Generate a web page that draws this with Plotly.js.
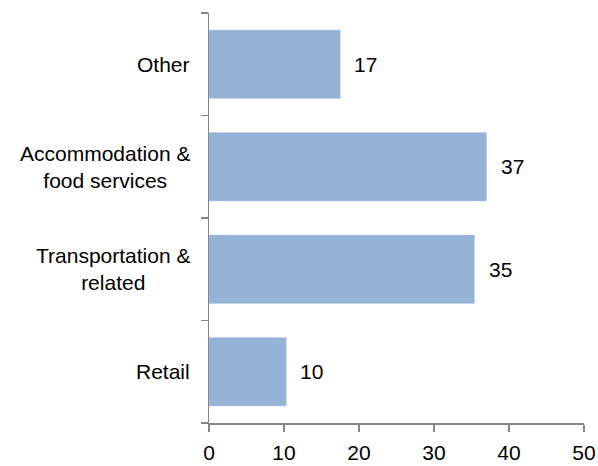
<!DOCTYPE html>
<html>
<head>
<meta charset="utf-8">
<script src="https://cdn.plot.ly/plotly-3.0.1.min.js"></script>
<style>html,body{margin:0;padding:0;background:#fff;}#chart{width:598px;height:466px;}</style>
</head>
<body>
<div id="chart"></div>
<script>
const categories = ["Retail", "Transportation &<br>related", "Accommodation &<br>food services", "Other"];
const values = [10.3, 35.4, 37.0, 17.5];
const valueLabels = ["10", "35", "37", "17"];
const xTicks = [0, 10, 20, 30, 40, 50];

const FONT = "Liberation Sans, Arial, sans-serif";
const FS = 21;
const AXIS_COLOR = "#868686";

const trace = {
  type: "bar",
  orientation: "h",
  y: categories,
  x: values,
  marker: {color: "#95B3D7", line: {color: "#B9CDE5", width: 0.5}},
  hoverinfo: "none"
};

const annotations = [];
categories.forEach((c, i) => {
  annotations.push({
    x: values[i], y: c, xref: "x", yref: "y",
    text: valueLabels[i], showarrow: false,
    xanchor: "left", xshift: 12,
    font: {family: FONT, size: FS, color: "#000"}
  });
  annotations.push({
    x: 0, y: c, xref: "paper", yref: "y",
    text: c, showarrow: false, align: "center",
    xanchor: "right", xshift: -17,
    font: {family: FONT, size: FS, color: "#000"}
  });
});

const layout = {
  width: 598, height: 466,
  margin: {l: 209, r: 14, t: 13, b: 43, pad: 0},
  paper_bgcolor: "#fff", plot_bgcolor: "#fff",
  showlegend: false,
  bargap: 0.333,
  font: {family: FONT, size: FS, color: "#000"},
  xaxis: {
    range: [0, 50], tickvals: xTicks, ticktext: xTicks.map(String),
    showgrid: false, zeroline: false,
    showline: true, linecolor: AXIS_COLOR, linewidth: 1.5,
    ticks: "outside", ticklen: 7, tickcolor: AXIS_COLOR, tickwidth: 1.5,
    ticklabelstandoff: 3,
    tickfont: {family: FONT, size: FS, color: "#000"},
    fixedrange: true
  },
  yaxis: {
    type: "category", categoryorder: "array", categoryarray: categories,
    showgrid: false, zeroline: false,
    showline: true, linecolor: AXIS_COLOR, linewidth: 1.5,
    ticks: "outside", ticklen: 7, tickcolor: AXIS_COLOR, tickwidth: 1.5,
    tickson: "boundaries",
    showticklabels: false,
    fixedrange: true
  },
  annotations: annotations
};

Plotly.newPlot("chart", [trace], layout, {displayModeBar: false, staticPlot: true});
</script>
</body>
</html>
